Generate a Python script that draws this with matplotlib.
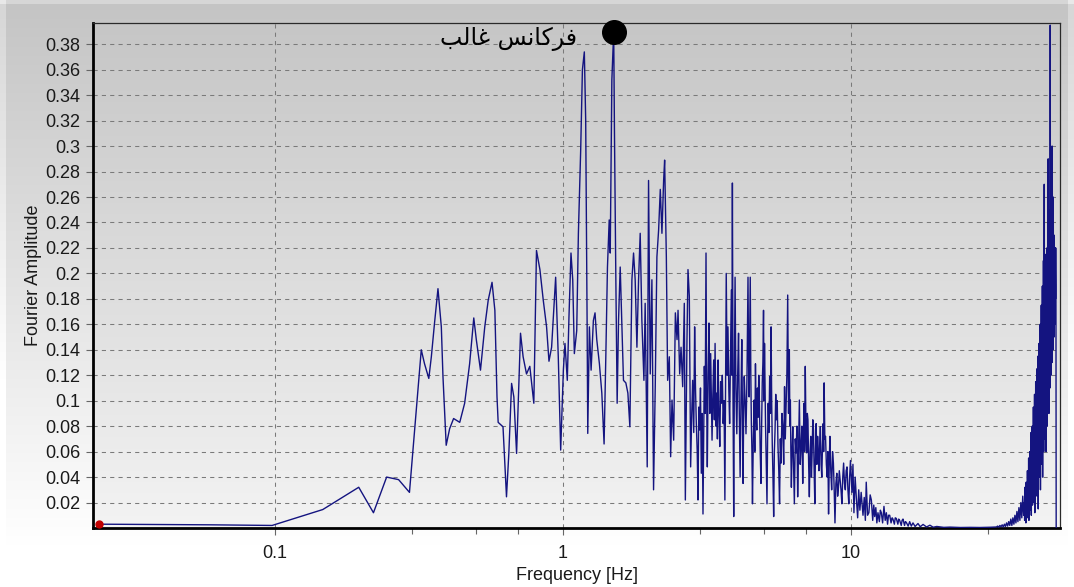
import numpy as np
import matplotlib
matplotlib.use("Agg")
import matplotlib.pyplot as plt
from matplotlib.ticker import FixedLocator, NullFormatter

# Fourier amplitude spectrum, read band by band as (frequency [Hz], amplitude)
band_low = [
    (0.0244, 0.003), (0.06, 0.0025), (0.0977, 0.002), (0.1465, 0.0145),
    (0.1953, 0.032), (0.2197, 0.012), (0.2441, 0.040), (0.2686, 0.038),
    (0.293, 0.028), (0.322, 0.140), (0.3305, 0.129), (0.342, 0.1175),
    (0.349, 0.1345), (0.358, 0.161), (0.368, 0.188), (0.378, 0.158),
    (0.383, 0.119), (0.393, 0.065), (0.404, 0.078), (0.417, 0.086),
    (0.438, 0.083), (0.4555, 0.098), (0.474, 0.129), (0.490, 0.165),
    (0.500, 0.148), (0.517, 0.124), (0.535, 0.158), (0.550, 0.179),
    (0.567, 0.193), (0.580, 0.171), (0.590, 0.103), (0.5955, 0.083),
    (0.619, 0.0795), (0.6365, 0.0245), (0.6485, 0.0586), (0.663, 0.1136),
    (0.675, 0.103), (0.690, 0.0586), (0.712, 0.153), (0.727, 0.1345),
    (0.747, 0.121), (0.767, 0.127), (0.792, 0.098), (0.809, 0.218),
    (0.8315, 0.203), (0.854, 0.179), (0.877, 0.158), (0.894, 0.131),
    (0.913, 0.142), (0.943, 0.197), (0.963, 0.1345), (0.9817, 0.0612),
]

band_main = [
    (1.003, 0.124), (1.016, 0.145), (1.035, 0.116), (1.049, 0.166),
    (1.066, 0.216), (1.081, 0.195), (1.095, 0.137), (1.116, 0.155),
    (1.131, 0.2315), (1.152, 0.297), (1.168, 0.360), (1.186, 0.374),
    (1.199, 0.3205), (1.213, 0.158), (1.219, 0.0743), (1.235, 0.158),
    (1.252, 0.124), (1.275, 0.163), (1.292, 0.169), (1.31, 0.148),
    (1.338, 0.129), (1.364, 0.106), (1.389, 0.066), (1.409, 0.137),
    (1.427, 0.205), (1.447, 0.242), (1.459, 0.216), (1.478, 0.352),
    (1.50, 0.390), (1.509, 0.3125), (1.526, 0.195), (1.542, 0.098),
    (1.559, 0.163), (1.58, 0.205), (1.60, 0.163), (1.622, 0.116),
    (1.653, 0.114), (1.68, 0.106), (1.707, 0.0795), (1.735, 0.195),
    (1.758, 0.216), (1.781, 0.195), (1.806, 0.142), (1.83, 0.195),
    (1.854, 0.2315), (1.879, 0.163), (1.91, 0.116), (1.929, 0.1765),
    (1.961, 0.048), (1.982, 0.273), (2.009, 0.121), (2.036, 0.195),
    (2.063, 0.030), (2.091, 0.111), (2.119, 0.213), (2.148, 0.234),
    (2.177, 0.266), (2.206, 0.2315), (2.236, 0.273), (2.254, 0.289),
    (2.285, 0.213), (2.309, 0.116), (2.34, 0.1345), (2.365, 0.056),
    (2.391, 0.1005), (2.423, 0.069), (2.456, 0.169), (2.489, 0.148),
    (2.509, 0.171), (2.542, 0.121), (2.57, 0.142), (2.604, 0.111),
    (2.638, 0.1765), (2.66, 0.022), (2.695, 0.148), (2.717, 0.203),
    (2.746, 0.182), (2.775, 0.048), (2.80, 0.090), (2.82, 0.116),
    (2.845, 0.075), (2.865, 0.158), (2.885, 0.110), (2.904, 0.082),
    (2.925, 0.060), (2.943, 0.022), (2.962, 0.095), (2.982, 0.077),
    (3.002, 0.110), (3.022, 0.043), (3.043, 0.090), (3.063, 0.011),
    (3.080, 0.070), (3.096, 0.127), (3.117, 0.090), (3.138, 0.216),
    (3.155, 0.100), (3.171, 0.048), (3.192, 0.120), (3.214, 0.161),
    (3.235, 0.090), (3.257, 0.137), (3.275, 0.100), (3.293, 0.069),
    (3.315, 0.105), (3.337, 0.132), (3.355, 0.085), (3.374, 0.145),
    (3.397, 0.080), (3.419, 0.106), (3.437, 0.070), (3.456, 0.132),
    (3.480, 0.090), (3.503, 0.064), (3.527, 0.115), (3.551, 0.098),
    (3.575, 0.120), (3.60, 0.082), (3.625, 0.100), (3.649, 0.022),
    (3.669, 0.110), (3.689, 0.200), (3.715, 0.120), (3.74, 0.158),
    (3.765, 0.110), (3.79, 0.082), (3.815, 0.130), (3.843, 0.187),
    (3.860, 0.120), (3.875, 0.271), (3.895, 0.100), (3.916, 0.009),
    (3.937, 0.120), (3.959, 0.197), (3.985, 0.110), (4.014, 0.074),
    (4.042, 0.120), (4.07, 0.153), (4.095, 0.090), (4.122, 0.040),
    (4.150, 0.100), (4.177, 0.148), (4.20, 0.090), (4.22, 0.035),
    (4.24, 0.090), (4.26, 0.119), (4.29, 0.100), (4.32, 0.074),
    (4.355, 0.120), (4.39, 0.197), (4.41, 0.130), (4.43, 0.103),
    (4.45, 0.150), (4.47, 0.197), (4.49, 0.120), (4.51, 0.082),
    (4.53, 0.060), (4.55, 0.019), (4.58, 0.070),
]

band_mid = [
    (4.61, 0.1005), (4.635, 0.06), (4.66, 0.129), (4.685, 0.09),
    (4.71, 0.077), (4.735, 0.11), (4.76, 0.087), (4.785, 0.12),
    (4.81, 0.098), (4.84, 0.06), (4.87, 0.035), (4.895, 0.08),
    (4.92, 0.114), (4.945, 0.13), (4.97, 0.171), (4.99, 0.10),
    (5.01, 0.145), (5.03, 0.11), (5.05, 0.082), (5.08, 0.05),
    (5.11, 0.019), (5.135, 0.07), (5.16, 0.098), (5.19, 0.075),
    (5.22, 0.119), (5.25, 0.09), (5.28, 0.158), (5.305, 0.10),
    (5.33, 0.066), (5.36, 0.04), (5.39, 0.009), (5.42, 0.06),
    (5.45, 0.077), (5.48, 0.105), (5.51, 0.085), (5.545, 0.10),
    (5.58, 0.064), (5.615, 0.045), (5.65, 0.019), (5.685, 0.07),
    (5.72, 0.051), (5.76, 0.09), (5.80, 0.0795), (5.84, 0.05),
    (5.88, 0.111), (5.915, 0.07), (5.95, 0.093), (5.99, 0.12),
    (6.03, 0.183), (6.07, 0.09), (6.11, 0.140), (6.135, 0.08),
    (6.16, 0.1005), (6.185, 0.06), (6.21, 0.032), (6.245, 0.06),
    (6.28, 0.0795), (6.32, 0.05), (6.36, 0.019), (6.405, 0.07),
    (6.45, 0.059), (6.49, 0.08), (6.53, 0.0245), (6.575, 0.06),
    (6.62, 0.1005), (6.665, 0.05), (6.71, 0.064), (6.755, 0.08),
    (6.80, 0.035), (6.835, 0.07), (6.87, 0.098), (6.905, 0.06),
    (6.94, 0.127), (6.98, 0.075), (7.02, 0.059), (7.055, 0.09),
    (7.09, 0.085), (7.13, 0.05), (7.17, 0.0245), (7.21, 0.06),
    (7.25, 0.072), (7.29, 0.04), (7.33, 0.059), (7.37, 0.085),
    (7.41, 0.077), (7.45, 0.045), (7.49, 0.019), (7.53, 0.06),
    (7.57, 0.082), (7.615, 0.05), (7.66, 0.072), (7.70, 0.06),
    (7.74, 0.045), (7.785, 0.065), (7.83, 0.0795), (7.875, 0.05),
    (7.92, 0.040), (7.965, 0.065), (8.01, 0.082), (8.04, 0.06),
    (8.07, 0.114), (8.115, 0.07), (8.16, 0.072), (8.215, 0.05),
    (8.27, 0.040), (8.315, 0.06), (8.36, 0.011), (8.405, 0.05),
    (8.45, 0.072), (8.51, 0.045), (8.57, 0.030), (8.63, 0.06),
    (8.69, 0.051), (8.745, 0.03), (8.80, 0.004), (8.865, 0.035),
    (8.93, 0.043), (8.99, 0.025), (9.05, 0.032), (9.11, 0.045),
    (9.17, 0.038), (9.235, 0.03), (9.30, 0.019), (9.365, 0.04),
    (9.43, 0.051), (9.495, 0.035), (9.56, 0.030), (9.625, 0.045),
    (9.69, 0.048), (9.76, 0.03), (9.83, 0.019), (9.895, 0.04),
]

band_tail = [
    (9.96, 0.053), (10.08, 0.028), (10.16, 0.050), (10.24, 0.012),
    (10.34, 0.040), (10.45, 0.022), (10.55, 0.008), (10.64, 0.030),
    (10.74, 0.014), (10.85, 0.028), (11.01, 0.010), (11.12, 0.024),
    (11.22, 0.006), (11.30, 0.036), (11.42, 0.010), (11.54, 0.012),
    (11.66, 0.026), (11.77, 0.022), (11.90, 0.006), (12.00, 0.018),
    (12.09, 0.009), (12.20, 0.016), (12.30, 0.004), (12.41, 0.012),
    (12.55, 0.005), (12.65, 0.014), (12.75, 0.012), (12.88, 0.004),
    (13.02, 0.017), (13.15, 0.006), (13.27, 0.012), (13.40, 0.003),
    (13.50, 0.010), (13.63, 0.010), (13.78, 0.004), (13.90, 0.008),
    (13.99, 0.007), (14.15, 0.003), (14.25, 0.008), (14.37, 0.0075),
    (14.55, 0.003), (14.65, 0.007), (14.76, 0.006), (14.95, 0.002),
    (15.05, 0.006), (15.16, 0.007), (15.35, 0.002), (15.45, 0.005),
    (15.56, 0.0045), (15.8, 0.0015), (15.99, 0.005), (16.2, 0.0015),
    (16.42, 0.004), (16.7, 0.0012), (17.09, 0.0035), (17.4, 0.001),
    (17.8, 0.0028), (18.3, 0.0008), (18.8, 0.0022), (19.3, 0.0006),
    (19.86, 0.0012), (21.0, 0.0005), (22.1, 0.0007), (24.0, 0.0004),
    (26.0, 0.0005), (28.0, 0.0004), (30.5, 0.0006),
]

# Rising edge towards the high-frequency cluster (0.3 Hz spacing from 32 Hz)
amp_rise = [
    0.0008, 0.0015, 0.0006, 0.002, 0.001, 0.0025, 0.0008, 0.003, 0.0012,
    0.004, 0.0015, 0.005, 0.002, 0.007, 0.002, 0.008, 0.003, 0.010,
    0.004, 0.013, 0.005, 0.016, 0.006, 0.020, 0.008, 0.025, 0.010,
]

# High-frequency cluster (0.1 Hz spacing from 40 Hz)
amp_peak = [
    0.020, 0.006, 0.032, 0.012, 0.028, 0.004, 0.036, 0.015, 0.030, 0.008,
    0.045, 0.012, 0.038, 0.020, 0.055, 0.006, 0.042, 0.025, 0.060, 0.014,
    0.050, 0.030, 0.075, 0.010, 0.062, 0.035, 0.080, 0.018, 0.070, 0.040,
    0.095, 0.020, 0.085, 0.045, 0.105, 0.012, 0.090, 0.050, 0.115, 0.030,
    0.100, 0.055, 0.125, 0.025, 0.110, 0.060, 0.135, 0.015, 0.120, 0.065,
    0.145, 0.040, 0.130, 0.070, 0.160, 0.030, 0.150, 0.080, 0.175, 0.050,
    0.160, 0.085, 0.190, 0.040, 0.175, 0.090, 0.210, 0.060, 0.185, 0.270,
    0.100, 0.200, 0.070, 0.185, 0.110, 0.215, 0.060, 0.200, 0.120, 0.220,
    0.080, 0.210, 0.130, 0.230, 0.290, 0.140, 0.225, 0.090, 0.240, 0.150,
    0.250, 0.110, 0.395, 0.160, 0.300, 0.120, 0.260, 0.170, 0.280, 0.130,
    0.300, 0.180, 0.240, 0.140, 0.260, 0.190, 0.220, 0.150, 0.230, 0.200,
    0.210, 0.160, 0.220, 0.180, 0.220, 0.190, 0.0,
]

x_ticks = [0.1, 1, 10]
x_tick_labels = ["0.1", "1", "10"]
x_minor_ticks = [0.3, 0.5, 0.7, 3, 5, 7, 30]
y_ticks = [0.02, 0.04, 0.06, 0.08, 0.1, 0.12, 0.14, 0.16, 0.18, 0.2,
           0.22, 0.24, 0.26, 0.28, 0.3, 0.32, 0.34, 0.36, 0.38]

dominant_label = "\uFE90\uFEDF\uFE8E\uFECF \uFEB2\uFEE7\uFE8E\uFB90\uFEAE\uFED3"  # فرکانس غالب

# ---------------------------------------------------------------- assemble
pairs = band_low + band_main + band_mid + band_tail
freq = np.array([p[0] for p in pairs])
amp = np.array([p[1] for p in pairs])
freq = np.concatenate([freq, np.linspace(32.0, 39.8, len(amp_rise)),
                       np.linspace(40.0, 51.6, len(amp_peak))])
amp = np.concatenate([amp, amp_rise, amp_peak])
order = np.argsort(freq)
freq, amp = freq[order], amp[order]

# dominant peak of the structural band (below 10 Hz)
low_mask = freq < 10
i_dom = np.argmax(np.where(low_mask, amp, -1))
f_dom, a_dom = freq[i_dom], amp[i_dom]

# ---------------------------------------------------------------- figure
W, H = 1074, 587
fig = plt.figure(figsize=(W / 100, H / 100), dpi=100)

# panel background: grey at the top fading to white
bg = fig.add_axes([0, 0, 1, 1], zorder=-10)
rows = np.linspace(0, 1, H)
shade = np.clip(196 + (255 - 196) * rows / 0.93, 0, 255)
img = np.repeat(shade[:, None], W, axis=1)
img[:4, :] += 18
img[:, :6] += 18
img[:, -6:] += 18
img = np.clip(img, 0, 255) / 255.0
bg.imshow(np.dstack([img] * 3), aspect="auto", extent=[0, 1, 0, 1],
          origin="upper", interpolation="bilinear")
bg.axis("off")

left, right = 93 / W, 1060 / W
bottom, top = 1 - 528 / H, 1 - 23 / H
pos = [left, bottom, right - left, top - bottom]

# plot-area gradient
pbg = fig.add_axes(pos, zorder=-5)
g = np.linspace(198, 243, 200)[:, None] / 255.0
pbg.imshow(np.dstack([g] * 3), aspect="auto", extent=[0, 1, 0, 1],
           origin="upper", interpolation="bilinear")
pbg.axis("off")

ax = fig.add_axes(pos)
ax.set_facecolor("none")
ax.set_xscale("log")
ax.set_xlim(0.02333, 53.2)
ax.set_ylim(0, 0.3967)

ax.plot(freq, amp, color="#141480", lw=1.0, zorder=3)
ax.plot(freq[0], amp[0], "o", color="#c00000", ms=5, zorder=4, clip_on=False)
ax.plot(f_dom, a_dom, "o", color="black", ms=17, zorder=5, clip_on=False)
ax.annotate(dominant_label, xy=(f_dom, a_dom), xytext=(-26, -5),
            textcoords="offset points", ha="right", va="center",
            fontsize=17, family=["DejaVu Sans"], color="black", zorder=6)

ax.set_xticks(x_ticks, labels=x_tick_labels)
ax.xaxis.set_minor_locator(FixedLocator(x_minor_ticks))
ax.xaxis.set_minor_formatter(NullFormatter())
ax.set_yticks(y_ticks, labels=[f"{v:g}" for v in y_ticks])

tick_font = "Liberation Sans"
for lab in ax.get_xticklabels() + ax.get_yticklabels():
    lab.set_family(tick_font)
    lab.set_fontsize(13)
    lab.set_color("#1a1a1a")

ax.tick_params(axis="both", which="major", direction="out", length=5,
               width=0.8, color="#666666", pad=4)
ax.tick_params(axis="x", which="minor", direction="out", length=4,
               width=0.8, color="#666666")
ax.tick_params(axis="x", which="major", pad=7)

ax.set_axisbelow(True)
ax.grid(True, which="major", color="#7a7a7a", linestyle=(0, (4, 4)),
        linewidth=0.75)

for side in ("left", "bottom"):
    ax.spines[side].set_linewidth(2.0)
    ax.spines[side].set_color("black")
for side in ("top", "right"):
    ax.spines[side].set_linewidth(0.9)
    ax.spines[side].set_color("#2a2a2a")

ax.set_xlabel("Frequency [Hz]", fontsize=13, family=tick_font,
              color="#1a1a1a", labelpad=4)
ax.set_ylabel("Fourier Amplitude", fontsize=13, family=tick_font,
              color="#1a1a1a", labelpad=2)

fig.savefig("out.png", dpi=100)
